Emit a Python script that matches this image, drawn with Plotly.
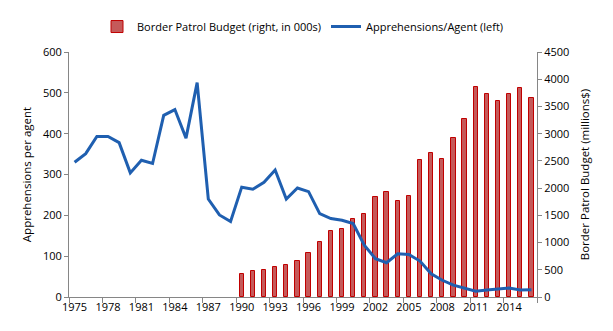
import plotly.graph_objects as go

years = list(range(1975, 2017))

apprehensions_per_agent = [
    330, 351, 393, 393, 378, 304, 335, 327, 445, 459,
    389, 525, 240, 201, 185, 269, 264, 281, 311, 240,
    267, 258, 204, 192, 188, 180, 127, 94, 84, 106,
    104, 88, 57, 41, 29, 21, 14, 17, 19, 22,
    17, 18,
]

budget_years = list(range(1990, 2017))
budget_millions = [
    425, 484, 502, 556, 586, 663, 801, 1004, 1214, 1250,
    1429, 1518, 1841, 1924, 1763, 1859, 2516, 2636, 2528, 2923,
    3263, 3849, 3724, 3604, 3724, 3831, 3652,
]

tick_years = list(range(1975, 2016, 3))
tick_labels = [str(y) for y in tick_years]
boundary_ticks = [y - 0.5 for y in tick_years] + [2016.5]

axis_gray = "#868686"
font_family = "Open Sans, DejaVu Sans, sans-serif"

fig = go.Figure()
fig.add_trace(go.Bar(
    x=budget_years, y=budget_millions,
    name="Border Patrol Budget (right, in 000s)",
    marker=dict(color="#C55A5A", line=dict(color="#C00000", width=1)),
    width=0.38,
    yaxis="y",
))
fig.add_trace(go.Scatter(
    x=years, y=apprehensions_per_agent,
    name="Apprehensions/Agent (left)",
    mode="lines",
    line=dict(color="#1F5FB0", width=3),
    yaxis="y2",
))

fig.update_layout(
    width=613, height=331,
    margin=dict(l=69, r=76, t=46, b=34),
    paper_bgcolor="white", plot_bgcolor="white",
    font=dict(family=font_family, size=11, color="#000000"),
    bargap=0,
    showlegend=True,
    legend=dict(orientation="h", x=0.5, xanchor="center", y=1.104, yanchor="middle",
                font=dict(size=11), itemwidth=30, traceorder="normal"),
    xaxis=dict(
        range=[1974.5, 2016.5],
        tickmode="array", tickvals=tick_years, ticktext=tick_labels,
        ticks="", showgrid=False, zeroline=False,
        showline=True, linecolor=axis_gray, linewidth=1,
        tickfont=dict(size=11),
        minor=dict(tickmode="array", tickvals=boundary_ticks, ticks="outside",
                   ticklen=5, tickcolor=axis_gray, showgrid=False),
    ),
    yaxis=dict(
        side="right", range=[0, 4500], dtick=500,
        ticks="outside", ticklen=4, tickcolor=axis_gray,
        showline=True, linecolor=axis_gray, linewidth=1,
        showgrid=False, zeroline=False,
        title=dict(text="Border Patrol Budget (millions$)", standoff=12, font=dict(size=11.5)),
        tickfont=dict(size=11),
    ),
    yaxis2=dict(
        side="left", overlaying="y", range=[0, 600], dtick=100,
        ticks="outside", ticklen=4, tickcolor=axis_gray,
        showline=True, linecolor=axis_gray, linewidth=1,
        showgrid=False, zeroline=False,
        title=dict(text="Apprehensions per agent", standoff=8, font=dict(size=11.5)),
        tickfont=dict(size=11),
    ),
)

fig.write_html("out.html")
